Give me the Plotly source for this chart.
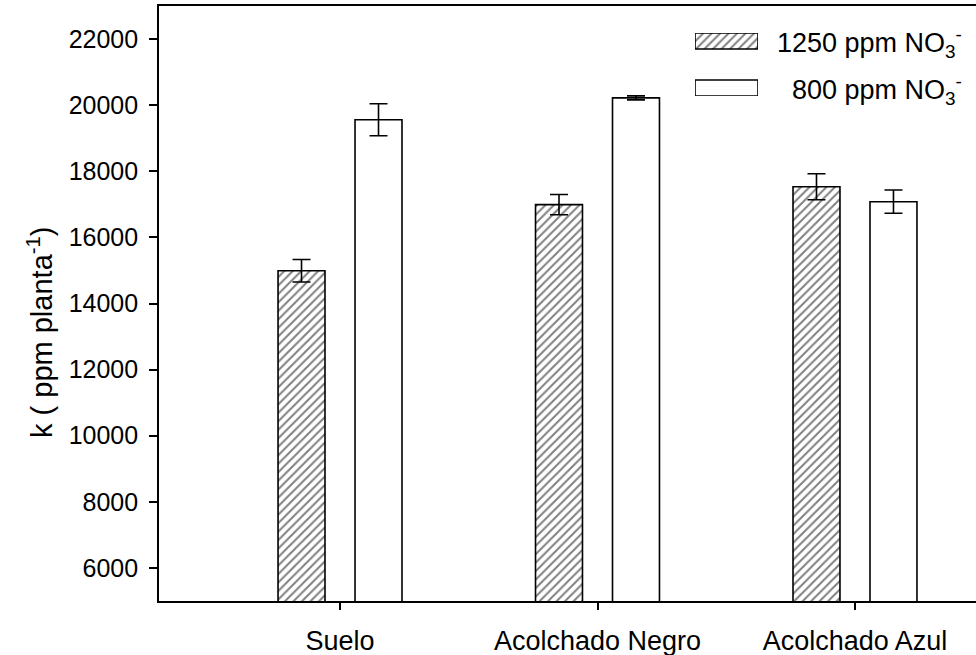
import plotly.graph_objects as go

categories = ["Suelo", "Acolchado Negro", "Acolchado Azul"]
k_1250 = [14990, 16990, 17530]
err_1250 = [340, 307, 393]
k_800 = [19560, 20220, 17080]
err_800 = [484, 60, 352]
y_ticks = [6000, 8000, 10000, 12000, 14000, 16000, 18000, 20000, 22000]
y_ticktext = [str(v) for v in y_ticks]
legend_labels = ["1250 ppm NO<sub>3</sub><sup>-</sup>", "800 ppm NO<sub>3</sub><sup>-</sup>"]

FONT = "Liberation Sans, Arial, sans-serif"
W, H = 976, 655
L, R, T, B = 159, 0, 6, 54

HATCH = dict(shape="/", size=6, solidity=0.33, fgcolor="black", bgcolor="white")

fig = go.Figure()

fig.add_trace(go.Bar(
    x=list(range(len(categories))), y=k_1250, name=legend_labels[0],
    marker=dict(color="white", line=dict(color="black", width=1.6), pattern=HATCH),
    error_y=dict(type="data", array=err_1250, color="black", thickness=1.6, width=9),
    showlegend=False,
))
fig.add_trace(go.Bar(
    x=list(range(len(categories))), y=k_800, name=legend_labels[1],
    marker=dict(color="white", line=dict(color="black", width=1.6)),
    error_y=dict(type="data", array=err_800, color="black", thickness=1.6, width=9),
    showlegend=False,
))

# custom legend swatches (on a small auxiliary axis)
fig.add_trace(go.Bar(
    x=[1], y=[1], orientation="h", xaxis="x2", yaxis="y2", width=0.34,
    marker=dict(color="white", line=dict(color="black", width=1.6), pattern=HATCH),
    showlegend=False, hoverinfo="skip",
))
fig.add_trace(go.Bar(
    x=[1], y=[0], orientation="h", xaxis="x2", yaxis="y2", width=0.34,
    marker=dict(color="white", line=dict(color="black", width=1.6)),
    showlegend=False, hoverinfo="skip",
))

pw = W - L - R
ph = H - T - B
def px(x):
    return (x - L) / pw
def py(y):
    return (H - B - y) / ph

fig.update_layout(
    width=W, height=H,
    margin=dict(l=L, r=R, t=T, b=B),
    paper_bgcolor="white", plot_bgcolor="white",
    barmode="group", bargap=0.402, bargroupgap=0.39,
    font=dict(family=FONT, size=25, color="black"),
    xaxis=dict(
        tickmode="array", tickvals=list(range(len(categories))), ticktext=categories,
        range=[-0.703, 2.47], showline=True, linecolor="black", linewidth=1.6, mirror=True,
        ticks="outside", ticklen=7, tickwidth=1.6, tickcolor="black",
        showgrid=False, zeroline=False, tickfont=dict(family=FONT, size=27), ticklabelstandoff=8,
    ),
    yaxis=dict(
        range=[5000, 23000], tickmode="array", tickvals=y_ticks, ticktext=y_ticktext,
        showline=True, linecolor="black", linewidth=1.6, mirror=False,
        ticks="outside", ticklen=8, tickwidth=1.6, tickcolor="black",
        showgrid=False, zeroline=False, tickfont=dict(family=FONT, size=25), ticklabelstandoff=6,
    ),
    xaxis2=dict(domain=[px(695), px(758)], range=[0, 1], visible=False, anchor="y2", fixedrange=True),
    yaxis2=dict(domain=[py(96), py(33)], range=[-0.17, 1.17], visible=False, anchor="x2", fixedrange=True),
    showlegend=False,
)

fig.add_annotation(
    text="k ( ppm planta<sup>-1</sup>)", textangle=-90, xref="paper", yref="paper",
    x=px(40), y=py(333), xanchor="center", yanchor="middle", showarrow=False,
    font=dict(family=FONT, size=29),
)
for i, lab in enumerate(legend_labels):
    fig.add_annotation(
        text=lab, xref="paper", yref="paper", x=px(964), y=py([41, 88][i] + 2),
        xanchor="right", yanchor="middle", showarrow=False, font=dict(family=FONT, size=27),
    )

fig.write_html(
    "out.html",
    config={"displayModeBar": False},
    post_script="document.body.style.margin='0';document.body.style.padding='0';",
)
